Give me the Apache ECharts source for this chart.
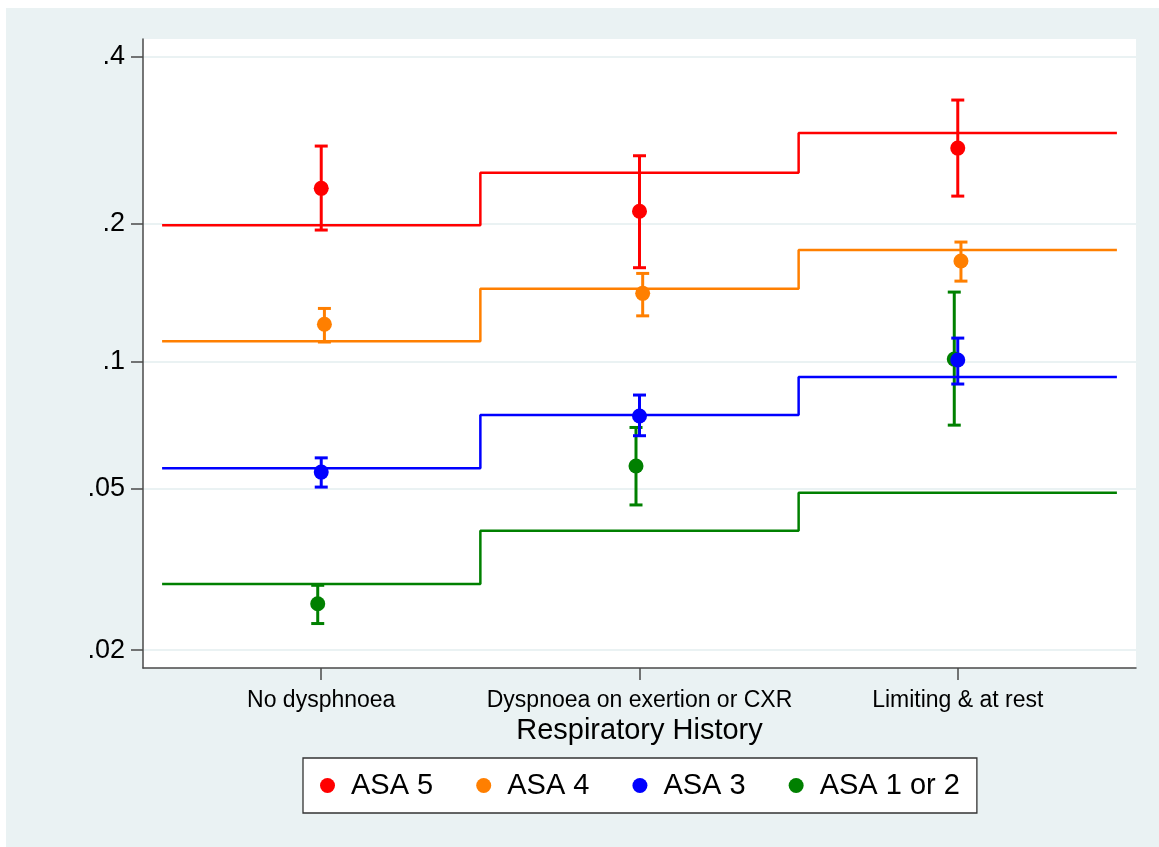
<!DOCTYPE html>
<html>
<head>
<meta charset="utf-8">
<script src="https://cdn.jsdelivr.net/npm/echarts@6/dist/echarts.min.js"></script>
<style>
  html, body { margin: 0; padding: 0; background: #fff; }
  #main { width: 1159px; height: 847px; }
</style>
</head>
<body>
<div id="main"></div>
<script>
// categories on the x axis
const categories = ['No dysphnoea', 'Dyspnoea on exertion or CXR', 'Limiting & at rest'];
const catPos = [1, 2, 3];

// y ticks (probability, shown on a logit scale)
const yTicks = [0.02, 0.05, 0.1, 0.2, 0.4];
const yTickLabels = ['.02', '.05', '.1', '.2', '.4'];

// groups, drawn bottom-up so that ASA 5 ends on top
const groupNames = ['ASA 1 or 2', 'ASA 3', 'ASA 4', 'ASA 5'];
const groupColors = ['#008000', '#0000ff', '#ff7f00', '#ff0000'];
const xShift = [-0.011, 0, 0.01, 0];

// predicted (step line) values
const fitAsa12 = [0.0292, 0.0395, 0.0489];
const fitAsa3 = [0.0561, 0.0751, 0.0922];
const fitAsa4 = [0.1113, 0.1457, 0.1764];
const fitAsa5 = [0.1985, 0.2522, 0.2986];

// observed rates with confidence intervals
const estAsa12 = [0.0261, 0.0568, 0.1014];
const loAsa12 = [0.0233, 0.0457, 0.0711];
const hiAsa12 = [0.0290, 0.0702, 0.1433];

const estAsa3 = [0.0549, 0.0747, 0.1009];
const loAsa3 = [0.0505, 0.0671, 0.0888];
const hiAsa3 = [0.0594, 0.0837, 0.1132];

const estAsa4 = [0.1216, 0.1424, 0.1672];
const loAsa4 = [0.1109, 0.1270, 0.1514];
const hiAsa4 = [0.1319, 0.1573, 0.1833];

const estAsa5 = [0.2353, 0.2119, 0.2805];
const loAsa5 = [0.1941, 0.1618, 0.2272];
const hiAsa5 = [0.2829, 0.2715, 0.3408];

const fits = [fitAsa12, fitAsa3, fitAsa4, fitAsa5];
const ests = [estAsa12, estAsa3, estAsa4, estAsa5];
const los = [loAsa12, loAsa3, loAsa4, loAsa5];
const his = [hiAsa12, hiAsa3, hiAsa4, hiAsa5];

function logit(p) {
    return Math.log(p / (1 - p));
}

const FONT = '"Liberation Sans", Arial, Helvetica, sans-serif';
const yTickVals = yTicks.map(logit);

let series = [];
groupNames.forEach(function (name, g) {
    let color = groupColors[g];
    let fit = fits[g];
    // step line from half a category left to half a category right
    let stepData = [];
    for (let i = 0; i < fit.length; i++) {
        stepData.push([catPos[i] - 0.5, logit(fit[i])]);
    }
    stepData.push([catPos[fit.length - 1] + 0.5, logit(fit[fit.length - 1])]);
    series.push({
        name: name,
        type: 'line',
        step: 'end',
        data: stepData,
        symbol: 'none',
        lineStyle: { color: color, width: 2.5 },
        itemStyle: { color: color },
        silent: true
    });

    let barData = catPos.map(function (x, i) {
        return [x + xShift[g], logit(los[g][i]), logit(his[g][i])];
    });
    series.push({
        name: name,
        type: 'custom',
        data: barData,
        itemStyle: { color: color },
        renderItem: function (params, api) {
            let x = api.value(0);
            let top = api.coord([x, api.value(2)]);
            let bot = api.coord([x, api.value(1)]);
            let half = 6.5;
            let st = { stroke: color, lineWidth: 3 };
            return {
                type: 'group',
                children: [
                    { type: 'line', shape: { x1: top[0], y1: top[1], x2: bot[0], y2: bot[1] }, style: st },
                    { type: 'line', shape: { x1: top[0] - half, y1: top[1], x2: top[0] + half, y2: top[1] }, style: st },
                    { type: 'line', shape: { x1: bot[0] - half, y1: bot[1], x2: bot[0] + half, y2: bot[1] }, style: st }
                ]
            };
        }
    });

    series.push({
        name: name,
        type: 'scatter',
        data: catPos.map(function (x, i) { return [x + xShift[g], logit(ests[g][i])]; }),
        symbol: 'circle',
        symbolSize: 15,
        itemStyle: { color: color, opacity: 1 }
    });
});

// legend order as in the picture: ASA 5 first
let legendData = groupNames.slice().reverse().map(function (name) {
    return { name: name, icon: 'circle', itemStyle: { color: groupColors[groupNames.indexOf(name)] } };
});

var myChart = echarts.init(document.getElementById('main'));

var option = {
    backgroundColor: '#eaf2f3',
    animation: false,
    textStyle: { fontFamily: FONT },
    graphic: [
        { type: 'rect', shape: { x: 0, y: 0, width: 1159, height: 8 }, style: { fill: '#fff' }, silent: true },
        { type: 'rect', shape: { x: 0, y: 0, width: 6, height: 847 }, style: { fill: '#fff' }, silent: true }
    ],
    grid: {
        left: 143,
        top: 39,
        right: 23,
        bottom: 179,
        show: true,
        backgroundColor: '#fff',
        borderWidth: 0
    },
    legend: {
        data: legendData,
        top: 758,
        left: 303,
        padding: [13, 17],
        itemGap: 43,
        itemWidth: 15,
        itemHeight: 15,
        backgroundColor: '#fff',
        borderColor: '#333',
        borderWidth: 1.3,
        borderRadius: 0,
        selectedMode: false,
        textStyle: { fontSize: 29, color: '#000', fontFamily: FONT, padding: [0, 0, 0, 11] }
    },
    xAxis: {
        type: 'value',
        min: 0.44,
        max: 3.56,
        name: 'Respiratory History',
        nameLocation: 'middle',
        nameGap: 41,
        nameTextStyle: { fontSize: 29, color: '#000', fontFamily: FONT },
        axisLine: { show: true, onZero: false, lineStyle: { color: '#4a4a4a', width: 1.5 } },
        axisTick: { show: true, customValues: catPos, length: 12, lineStyle: { color: '#4a4a4a', width: 1.5 } },
        axisLabel: {
            customValues: catPos,
            formatter: function (v) { return categories[Math.round(v) - 1]; },
            fontSize: 23,
            color: '#000',
            margin: 21,
            fontFamily: FONT
        },
        splitLine: { show: false }
    },
    yAxis: {
        type: 'value',
        min: logit(0.01804),
        max: logit(0.4253),
        axisLine: { show: true, onZero: false, lineStyle: { color: '#4a4a4a', width: 1.5 } },
        axisTick: { show: true, customValues: yTickVals, length: 12, lineStyle: { color: '#4a4a4a', width: 1.5 } },
        axisLabel: {
            customValues: yTickVals,
            formatter: function (v) {
                for (let i = 0; i < yTickVals.length; i++) {
                    if (Math.abs(yTickVals[i] - v) < 1e-6) return yTickLabels[i];
                }
                return '';
            },
            fontSize: 27,
            color: '#000',
            margin: 18,
            fontFamily: FONT
        },
        splitLine: { show: true, lineStyle: { color: '#eaf2f3', width: 2 } }
    },
    series: series
};

myChart.setOption(option);
</script>
</body>
</html>
